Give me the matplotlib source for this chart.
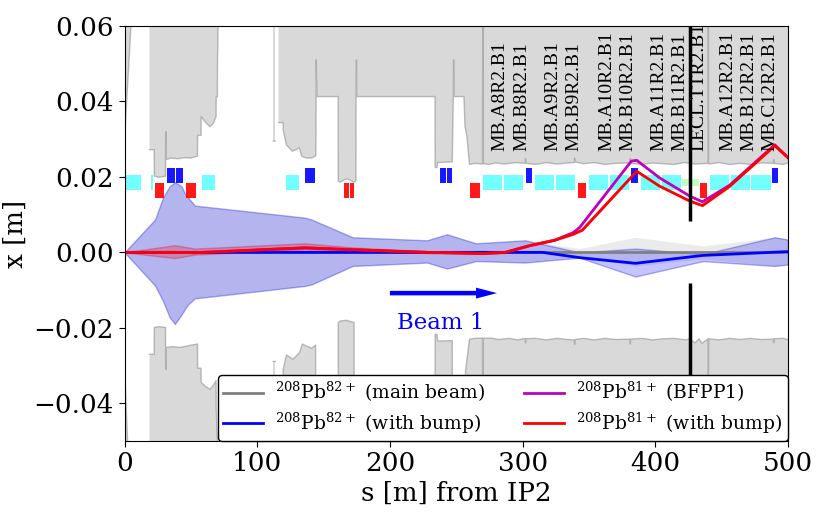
import numpy as np
import matplotlib
matplotlib.use("Agg")
import matplotlib.pyplot as plt

plt.rcParams["font.family"] = "DejaVu Serif"
plt.rcParams["mathtext.fontset"] = "dejavuserif"

# aperture, upper side (nan = gap, 0.07 = off the top)
top_s = [0, 6.5, 7, 18.7, 18.8, 22.4, 22.5, 26, 30.9, 31, 31.3, 31.5, 35, 40, 45, 50, 55, 55.1, 57.7, 57.8, 61, 64.4, 67, 69, 69.1, 70, 70.1, 71,
         72, 112, 112.1, 113.7, 114, 116, 116.1, 119.5, 119.6, 122, 126.5, 129, 131.8, 133.5, 137, 141, 144.2, 144.3, 144.5, 145, 161, 161.1, 162.5, 166, 168, 172.9, 174.4, 174.5, 174.8, 175, 234, 234.1, 235.5, 236, 247, 247.8, 248, 248.3, 255.8, 256.6, 258, 260,
         264, 269.8, 270, 270.2, 274, 280, 286, 295, 302, 302.2, 302.4, 310, 318, 326, 334, 339, 339.2, 339.4, 346, 354, 362, 370, 381, 381.2, 381.4, 390, 398, 406, 414, 422, 430, 439.8, 440, 440.2, 448, 456, 464, 472, 480, 489, 489.2, 489.4, 496, 500]
top_x = [0.030, 0.07, np.nan, np.nan, 0.0272, 0.0272, 0.0202, 0.0199, 0.0202, 0.032, 0.032, 0.0246, 0.0250, 0.0248, 0.0251, 0.0250, 0.0255, 0.031, 0.031, 0.036, 0.0345, 0.0333, 0.0342, 0.036, 0.0412, 0.0412, 0.051, 0.07,
         np.nan, np.nan, 0.0295, 0.0295, np.nan, np.nan, 0.0344, 0.0344, 0.0325, 0.0285, 0.0268, 0.0272, 0.0277, 0.0255, 0.0250, 0.0250, 0.0256, 0.0325, 0.051, 0.0413, 0.0413, 0.0189, 0.0186, 0.0193, 0.0195, 0.0186, 0.0189, 0.0413, 0.051, 0.0413, 0.0413, 0.0225, 0.0225, 0.0238, 0.0240, 0.0413, 0.051, 0.0413, 0.0413, 0.0334, 0.0308, 0.0233,
         0.0236, 0.0234, 0.07, 0.0236, 0.0233, 0.0237, 0.0234, 0.0238, 0.0236, 0.0248, 0.0236, 0.0233, 0.0238, 0.0234, 0.0237, 0.0238, 0.0250, 0.0240, 0.0235, 0.0238, 0.0233, 0.0236, 0.0237, 0.0249, 0.0236, 0.0233, 0.0237, 0.0235, 0.0233, 0.0238, 0.0234, 0.0236, 0.07, 0.0234, 0.0238, 0.0233, 0.0236, 0.0233, 0.0237, 0.0236, 0.0246, 0.0236, 0.0233, 0.0237]

# aperture, lower side
bot_s = [0, 3.5, 5, 18.7, 18.8, 22.4, 22.5, 26, 30.9, 31, 31.3, 31.5, 36, 42, 50, 55, 55.1, 57.7, 57.8, 61, 64.4, 67, 69, 69.1, 71,
         72, 112, 112.1, 113.7, 114, 116, 116.1, 119.5, 119.6, 122, 127, 132, 134, 137, 141, 144, 144.1, 161, 161.1, 162.5, 167, 173, 173.1, 234, 234.1, 235.5, 236, 247, 247.1, 255.8, 257, 260,
         264, 269.8, 270, 270.2, 276, 282, 290, 296, 302, 302.2, 302.4, 310, 318, 326, 334, 339, 339.2, 339.4, 346, 354, 362, 370, 381, 381.2, 381.4, 390, 398, 406, 414, 423, 426, 430, 433, 435, 439.8, 440, 440.2, 448, 456, 464, 472, 480, 489, 489.2, 489.4, 496, 500]
bot_x = [-0.030, -0.06, np.nan, np.nan, -0.027, -0.027, -0.0199, -0.0197, -0.0199, -0.031, -0.031, -0.0252, -0.0250, -0.0252, -0.0246, -0.0243, -0.0307, -0.0307, -0.0345, -0.0355, -0.0363, -0.0352, -0.034, -0.0413, -0.06,
         np.nan, np.nan, -0.0289, -0.0289, np.nan, np.nan, -0.036, -0.036, -0.031, -0.0272, -0.0283, -0.0265, -0.0243, -0.0248, -0.0254, -0.0246, -0.06, -0.06, -0.0186, -0.0182, -0.018, -0.0186, -0.06, -0.06, -0.0217, -0.0217, -0.0235, -0.0234, -0.06, -0.06, -0.0314, -0.023,
         -0.0228, -0.0227, -0.06, -0.0228, -0.0227, -0.0231, -0.0228, -0.0232, -0.0228, -0.0240, -0.0229, -0.0228, -0.0232, -0.0228, -0.0231, -0.0232, -0.0244, -0.0231, -0.0228, -0.0232, -0.0228, -0.0231, -0.0230, -0.0243, -0.0230, -0.0228, -0.0232, -0.0229, -0.0228, -0.0232, -0.0229, -0.0240, -0.0229, -0.0241, -0.0229, -0.06, -0.0229, -0.0232, -0.0228, -0.0231, -0.0228, -0.0231, -0.0230, -0.0240, -0.0229, -0.0228, -0.0231]

# beam envelope with bump
env_s = [0, 23, 29, 34, 38, 43, 45.6, 48, 53, 136, 141, 172, 228, 243, 253, 265, 302, 343, 385, 436, 490, 500]
env_up = [0, 0.0087, 0.0145, 0.0175, 0.0186, 0.0175, 0.0155, 0.0145, 0.0124, 0.0092, 0.0087, 0.004, 0.0032, 0.0048, 0.0037, 0.0024, 0.0032, 0.0, 0.001, -0.0005, 0.004, 0.0034]
env_lo = [0, -0.0088, -0.0129, -0.0172, -0.019, -0.0165, -0.015, -0.0138, -0.0122, -0.0089, -0.0085, -0.0036, -0.0027, -0.0043, -0.0034, -0.0023, -0.0027, -0.0014, -0.0064, -0.0023, -0.0036, -0.0032]

# main beam envelope
main_s = [0, 23, 29, 34, 38, 43, 45.6, 48, 53, 136, 141, 172, 228, 243, 253, 265, 302, 343, 385, 436, 490, 500]
main_up = [0, 0.0087, 0.0145, 0.0175, 0.0186, 0.0175, 0.0155, 0.0145, 0.0124, 0.0092, 0.0087, 0.004, 0.0032, 0.0048, 0.0037, 0.0024, 0.0032, 0.001, 0.004, 0.0017, 0.004, 0.0034]
main_lo = [0, -0.0088, -0.0129, -0.0172, -0.019, -0.0165, -0.015, -0.0138, -0.0122, -0.0089, -0.0085, -0.0036, -0.0027, -0.0043, -0.0034, -0.0023, -0.0027, -0.0012, -0.0036, -0.0017, -0.0036, -0.0032]

# centre of the bumped main beam
bump_s = [0, 315, 343, 385, 436, 500]
bump_x = [0, 0, -0.0014, -0.0029, -0.0008, 0.0002]

# 81+ beam
red_s = [0, 38, 53, 136, 172, 228, 260, 270, 287, 305.5, 324, 338, 345, 386, 403, 426, 435.5, 456, 490, 500]
red_x = [0, 0.0000, -0.0001, 0.0012, 0.0007, 0.0, -0.0002, -0.0003, 0.0, 0.0018, 0.0032, 0.0048, 0.0059, 0.0215, 0.0176, 0.0136, 0.0124, 0.0175, 0.0283, 0.0251]
red_up = [0, 0.0019, 0.001, 0.0024, 0.0013, 0.0003, 0.0, -0.0002, 0.0002, 0.0019, 0.0033, 0.0049, 0.006, 0.0216, 0.0177, 0.0137, 0.0125, 0.0176, 0.0285, 0.0252]
red_lo = [0, -0.0015, -0.0006, 0.0008, 0.0003, -0.0002, -0.0004, -0.0004, -0.0002, 0.0017, 0.0031, 0.0047, 0.0058, 0.0214, 0.0175, 0.0135, 0.0123, 0.0174, 0.0281, 0.025]
mag_s = [0, 38, 53, 136, 172, 228, 260, 270, 287, 305.5, 324, 338, 343, 382, 386, 403, 426, 435.5, 456, 490, 500]
mag_x = [0, 0.0, -0.0001, 0.0012, 0.0007, 0.0, -0.0002, -0.0003, 0.0, 0.0018, 0.0032, 0.0052, 0.0066, 0.0242, 0.0244, 0.0198, 0.0149, 0.0134, 0.0178, 0.0285, 0.0251]

# magnet blocks, (start, end) in s
dipoles = [(0.4, 6.2), (6.7, 12.2), (19.7, 21.5), (58.6, 68.2), (121.7, 131.5), (270.4, 284.7), (286, 300.5), (309.4, 323.9), (325.4, 339.7),
           (350, 364.6), (366, 380.4), (389.2, 403.5), (404.8, 419.4), (441.2, 455.8), (456.8, 471.4), (472, 487)]
quads_f = [(32, 37.9), (38.5, 44), (136, 139.6), (140.1, 143.3), (237.8, 242.4), (242.9, 246.6), (302.3, 307.3), (381.7, 386.7), (488.2, 492.2)]
quads_d = [(23, 29.5), (46.6, 53.6), (165.7, 169.2), (169.7, 173), (260.6, 263.9), (264.4, 268.2), (341.5, 347.8), (434, 438.7)]
collimator = [(420, 433)]

labels = ["MB.A8R2.B1", "MB.B8R2.B1", "MB.A9R2.B1", "MB.B9R2.B1", "MB.A10R2.B1", "MB.B10R2.B1",
          "MB.A11R2.B1", "MB.B11R2.B1", "LECL.TTR2.B1", "MB.A12R2.B1", "MB.B12R2.B1", "MB.C12R2.B1"]
label_s = [283.2, 299.8, 323.2, 338.9, 363.8, 379.6, 402.7, 418.6, 432.9, 455, 470.8, 486.2]

fig = plt.figure(figsize=(8.3, 5.19), dpi=100)
ax = fig.add_axes([124.5 / 830, 1 - 441 / 519, (788 - 124.5) / 830, (441 - 26) / 519])

# aperture
ax.fill_between(top_s, top_x, 0.07, color="k", alpha=0.15, lw=0)
ax.fill_between(bot_s, bot_x, -0.06, color="k", alpha=0.15, lw=0)
ax.plot(top_s, top_x, color="gray", lw=1, alpha=0.5)
ax.plot(bot_s, bot_x, color="gray", lw=1, alpha=0.5)

# beam envelopes
ax.fill_between(main_s, main_lo, main_up, color="k", alpha=0.08, lw=0)
ax.fill_between(env_s, env_lo, env_up, facecolor=(0, 0, 1, 0.23), edgecolor=(0, 0, 0.8, 0.3), lw=1)
ax.fill_between(red_s, red_lo, red_up, facecolor=(1, 0, 0, 0.25), edgecolor=(0.8, 0, 0.2, 0.3), lw=1)

# magnets
for a, b in dipoles:
    ax.bar((a + b) / 2, 0.004, b - a, 0.0164, color="cyan", alpha=0.55, lw=0)
for a, b in quads_f:
    ax.bar((a + b) / 2, 0.004, b - a, 0.0184, color="b", alpha=0.9, lw=0)
for a, b in quads_d:
    ax.bar((a + b) / 2, 0.004, b - a, 0.0145, color="r", alpha=0.9, lw=0)
for a, b in collimator:
    ax.bar((a + b) / 2, 0.002, b - a, 0.0175, color="lime", alpha=0.25, lw=0)

for s, name in zip(label_s, labels):
    ax.text(s, 0.0268, name, rotation=90, ha="center", va="bottom", family="Liberation Serif", fontsize=14)

# lines
ax.plot([0, 500], [0, 0], color="gray", lw=2, label=r"$^{208}\mathrm{Pb}^{82+}$ (main beam)")
ax.plot(bump_s, bump_x, color="b", lw=2, label=r"$^{208}\mathrm{Pb}^{82+}$ (with bump)")
ax.plot(mag_s, mag_x, color="m", lw=2, label=r"$^{208}\mathrm{Pb}^{81+}$ (BFPP1)")
ax.plot(red_s, red_x, color="r", lw=2, label=r"$^{208}\mathrm{Pb}^{81+}$ (with bump)")

# TCL collimator jaws
ax.plot([426, 426], [0.0082, 0.06], color="k", lw=2.5, solid_capstyle="butt")
ax.plot([426, 426], [-0.05, -0.008], color="k", lw=2.5, solid_capstyle="butt")

ax.arrow(200, -0.0108, 80.7, 0, width=0.0012, head_width=0.0029, head_length=15.8,
         length_includes_head=True, color="b", lw=0)
ax.text(238, -0.0188, "Beam 1", color="b", fontsize=16.5, ha="center", va="center")

ax.set_xlim(0, 500)
ax.set_ylim(-0.05, 0.06)
ax.set_xticks([0, 100, 200, 300, 400, 500])
ax.set_yticks([-0.04, -0.02, 0, 0.02, 0.04, 0.06])
ax.set_yticklabels(["\u22120.04", "\u22120.02", "0.00", "0.02", "0.04", "0.06"])
ax.tick_params(labelsize=18.8, length=4)
ax.set_xlabel("s [m] from IP2", fontsize=18.8, labelpad=3)
ax.set_ylabel("x [m]", fontsize=18.8, labelpad=4)

ax.legend(loc="lower right", ncol=2, fontsize=13.5, framealpha=1, edgecolor="k", borderaxespad=0,
          labelspacing=0.32, borderpad=0.29, handlelength=2.13, handletextpad=0.64, columnspacing=2.08)

fig.savefig("out.png", dpi=100)
